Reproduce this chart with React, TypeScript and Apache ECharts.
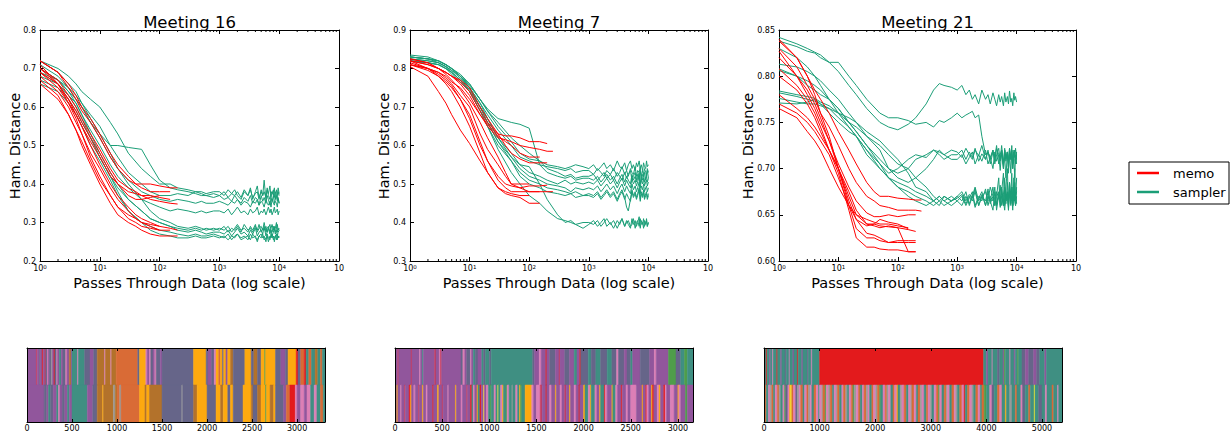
import React, { useEffect, useRef } from "react";
import * as echarts from "echarts";

const GREEN = "#1b9e77";
const RED = "#ff0000";
const FONT = "DejaVu Sans";

const TITLES = ["Meeting 16", "Meeting 7", "Meeting 21"];
const X_NAME = "Passes Through Data (log scale)";
const Y_NAME = "Ham. Distance";
const LEGEND_LABELS = ["memo", "sampler"];

// x grids (passes through data)
const GX = [1, 2, 3, 4, 5, 7, 10, 15, 20, 30, 50, 70, 100, 150, 200, 300, 400, 500, 600, 800,
  1000, 1200, 1400, 1600, 1800, 2000, 2300, 2600, 3000, 3300, 3600, 4000, 4300, 4600, 5000, 5300, 5600, 6000, 6300, 6600, 7000, 7300, 7600, 8000, 8300, 8600, 9000, 9300, 9600, 10000];
const RX = [1, 2, 3, 4, 5, 7, 10, 15, 20, 30, 40, 50, 70, 100, 150, 200, 250];

// ---------- Meeting 16 ----------
const M16_SAMPLER = [
  [0.72,0.70,0.68,0.66,0.64,0.62,0.60,0.56,0.53,0.48,0.44,0.42,0.40,0.40,0.39,0.385,0.38,0.38,0.375,0.38, 0.38,0.37,0.385,0.375,0.37,0.38,0.365,0.385,0.37,0.39,0.36,0.38,0.395,0.365,0.38,0.37,0.41,0.36,0.385,0.375,0.395,0.365,0.38,0.37,0.39,0.36,0.385,0.37,0.39,0.375],
  [0.70,0.67,0.64,0.62,0.60,0.56,0.53,0.50,0.50,0.495,0.49,0.45,0.41,0.39,0.385,0.38,0.375,0.37,0.37,0.365, 0.37,0.36,0.365,0.355,0.37,0.36,0.35,0.365,0.355,0.37,0.35,0.365,0.36,0.345,0.37,0.355,0.365,0.35,0.37,0.36,0.345,0.365,0.355,0.37,0.35,0.36,0.37,0.355,0.365,0.35],
  [0.69,0.67,0.65,0.63,0.61,0.58,0.55,0.50,0.47,0.43,0.40,0.38,0.37,0.37,0.375,0.37,0.38,0.375,0.37,0.375, 0.37,0.38,0.365,0.375,0.385,0.37,0.36,0.38,0.37,0.385,0.365,0.375,0.38,0.36,0.385,0.37,0.38,0.365,0.39,0.37,0.36,0.38,0.375,0.385,0.365,0.38,0.37,0.36,0.38,0.37],
  [0.71,0.68,0.65,0.62,0.60,0.56,0.52,0.47,0.44,0.41,0.38,0.37,0.36,0.355,0.36,0.355,0.35,0.355,0.35,0.35, 0.355,0.35,0.345,0.355,0.35,0.36,0.345,0.355,0.35,0.34,0.355,0.35,0.36,0.345,0.355,0.35,0.34,0.36,0.35,0.345,0.355,0.34,0.36,0.35,0.345,0.355,0.35,0.34,0.36,0.35],
  [0.68,0.66,0.63,0.61,0.58,0.54,0.50,0.45,0.42,0.39,0.36,0.35,0.34,0.33,0.335,0.33,0.325,0.33,0.325,0.33, 0.33,0.325,0.335,0.32,0.33,0.34,0.325,0.33,0.32,0.335,0.325,0.33,0.34,0.32,0.33,0.325,0.335,0.32,0.33,0.34,0.325,0.335,0.32,0.33,0.34,0.325,0.33,0.335,0.32,0.33],
  [0.67,0.65,0.62,0.59,0.56,0.52,0.47,0.42,0.39,0.36,0.33,0.31,0.30,0.29,0.285,0.28,0.285,0.28,0.285,0.28, 0.285,0.28,0.29,0.275,0.285,0.295,0.28,0.285,0.275,0.29,0.28,0.295,0.275,0.285,0.29,0.28,0.30,0.275,0.285,0.29,0.275,0.285,0.295,0.28,0.29,0.275,0.285,0.295,0.28,0.285],
  [0.70,0.67,0.64,0.61,0.58,0.53,0.48,0.43,0.40,0.36,0.33,0.31,0.30,0.29,0.28,0.275,0.28,0.275,0.27,0.275, 0.275,0.27,0.28,0.265,0.275,0.285,0.27,0.275,0.265,0.28,0.27,0.285,0.265,0.275,0.28,0.27,0.29,0.265,0.275,0.285,0.27,0.28,0.265,0.275,0.285,0.27,0.28,0.265,0.275,0.28],
  [0.66,0.64,0.61,0.58,0.55,0.50,0.46,0.41,0.37,0.33,0.30,0.29,0.28,0.275,0.27,0.265,0.27,0.265,0.265,0.27, 0.265,0.26,0.27,0.255,0.265,0.27,0.26,0.265,0.255,0.27,0.26,0.265,0.25,0.265,0.27,0.26,0.265,0.25,0.27,0.26,0.255,0.27,0.26,0.265,0.25,0.265,0.27,0.255,0.265,0.26],
  [0.69,0.66,0.63,0.60,0.57,0.52,0.47,0.42,0.38,0.33,0.30,0.28,0.27,0.265,0.26,0.26,0.265,0.26,0.26,0.265, 0.26,0.265,0.255,0.265,0.26,0.27,0.255,0.26,0.265,0.255,0.27,0.26,0.255,0.265,0.26,0.27,0.255,0.26,0.265,0.25,0.265,0.26,0.27,0.255,0.26,0.265,0.255,0.27,0.26,0.265],
  [0.72,0.69,0.66,0.64,0.61,0.57,0.53,0.48,0.44,0.40,0.36,0.33,0.31,0.30,0.29,0.285,0.29,0.285,0.28,0.285, 0.28,0.29,0.275,0.285,0.28,0.29,0.275,0.295,0.28,0.285,0.275,0.29,0.28,0.295,0.275,0.285,0.28,0.29,0.275,0.285,0.295,0.28,0.275,0.29,0.28,0.285,0.30,0.275,0.285,0.28],
];
const M16_MEMO = [
  [0.72,0.69,0.65,0.62,0.59,0.56,0.52,0.47,0.44,0.41,0.40,0.40,0.40,0.395,0.39,0.39],
  [0.70,0.67,0.63,0.60,0.57,0.53,0.49,0.44,0.41,0.39,0.38,0.37,0.36,0.355,0.35,0.348],
  [0.69,0.65,0.61,0.58,0.55,0.51,0.47,0.42,0.40,0.38,0.375,0.37,0.37,0.365,0.36],
  [0.68,0.64,0.60,0.56,0.53,0.48,0.44,0.39,0.36,0.33,0.31,0.30,0.295,0.29],
  [0.71,0.66,0.61,0.57,0.53,0.47,0.42,0.37,0.34,0.31,0.30,0.29,0.285,0.28,0.28],
  [0.67,0.63,0.58,0.54,0.50,0.45,0.40,0.35,0.32,0.30,0.29,0.28,0.27,0.265,0.265,0.265],
  [0.70,0.66,0.62,0.58,0.55,0.50,0.45,0.40,0.37,0.34,0.32,0.31,0.30,0.29,0.285,0.28],
  [0.66,0.62,0.58,0.54,0.51,0.46,0.41,0.37,0.34,0.32,0.31,0.30,0.29,0.28],
  [0.69,0.66,0.62,0.59,0.56,0.52,0.48,0.43,0.40,0.37,0.36,0.36,0.365,0.37],
  [0.72,0.69,0.66,0.63,0.60,0.57,0.53,0.48,0.45,0.42,0.40,0.39,0.38,0.38,0.38],
];

// ---------- Meeting 7 ----------
const M7_SAMPLER = [
  [0.83,0.825,0.82,0.81,0.80,0.785,0.76,0.72,0.69,0.65,0.61,0.58,0.565,0.56,0.55,0.545,0.54,0.545,0.55,0.545, 0.54,0.55,0.535,0.545,0.555,0.54,0.55,0.535,0.56,0.545,0.54,0.555,0.535,0.55,0.56,0.54,0.55,0.535,0.555,0.545,0.56,0.54,0.55,0.535,0.555,0.545,0.54,0.56,0.545,0.55],
  [0.825,0.82,0.815,0.805,0.795,0.78,0.75,0.71,0.68,0.64,0.60,0.57,0.56,0.55,0.545,0.54,0.535,0.54,0.53,0.535, 0.535,0.525,0.54,0.53,0.52,0.535,0.525,0.54,0.52,0.53,0.545,0.525,0.535,0.52,0.54,0.53,0.525,0.545,0.52,0.535,0.53,0.545,0.52,0.535,0.525,0.54,0.53,0.52,0.54,0.53],
  [0.83,0.825,0.82,0.81,0.80,0.78,0.755,0.72,0.695,0.67,0.66,0.655,0.645,0.55,0.53,0.52,0.515,0.52,0.51,0.515, 0.515,0.51,0.52,0.505,0.515,0.525,0.51,0.52,0.50,0.515,0.525,0.505,0.52,0.51,0.50,0.525,0.51,0.52,0.505,0.515,0.53,0.50,0.52,0.51,0.525,0.505,0.515,0.52,0.505,0.515],
  [0.82,0.815,0.81,0.80,0.79,0.77,0.74,0.70,0.67,0.62,0.58,0.55,0.53,0.52,0.51,0.50,0.51,0.50,0.505,0.50, 0.505,0.50,0.51,0.495,0.505,0.515,0.50,0.51,0.49,0.505,0.515,0.495,0.51,0.50,0.49,0.515,0.50,0.51,0.495,0.505,0.52,0.49,0.51,0.50,0.515,0.495,0.505,0.51,0.495,0.505],
  [0.835,0.83,0.82,0.81,0.80,0.78,0.75,0.71,0.67,0.62,0.57,0.54,0.52,0.51,0.50,0.495,0.49,0.48,0.49,0.485, 0.49,0.485,0.495,0.48,0.49,0.50,0.485,0.495,0.475,0.49,0.50,0.48,0.495,0.485,0.475,0.50,0.485,0.495,0.48,0.49,0.505,0.475,0.495,0.485,0.50,0.48,0.49,0.495,0.48,0.49],
  [0.82,0.815,0.81,0.80,0.79,0.77,0.74,0.69,0.65,0.60,0.56,0.53,0.51,0.50,0.49,0.485,0.48,0.475,0.48,0.47, 0.475,0.47,0.48,0.465,0.475,0.485,0.47,0.48,0.46,0.475,0.485,0.465,0.44,0.43,0.46,0.485,0.47,0.48,0.465,0.475,0.49,0.46,0.48,0.47,0.485,0.465,0.475,0.48,0.465,0.475],
  [0.83,0.825,0.815,0.805,0.795,0.775,0.75,0.70,0.66,0.61,0.56,0.52,0.50,0.49,0.48,0.475,0.47,0.475,0.465,0.47, 0.47,0.465,0.475,0.46,0.47,0.48,0.465,0.475,0.455,0.47,0.48,0.46,0.475,0.465,0.455,0.48,0.465,0.475,0.46,0.47,0.485,0.455,0.475,0.465,0.48,0.46,0.47,0.475,0.46,0.47],
  [0.825,0.82,0.815,0.805,0.79,0.77,0.745,0.70,0.66,0.61,0.57,0.55,0.545,0.50,0.46,0.42,0.40,0.405,0.395,0.40, 0.40,0.395,0.405,0.39,0.40,0.41,0.395,0.405,0.385,0.40,0.41,0.39,0.405,0.395,0.385,0.41,0.395,0.405,0.39,0.40,0.415,0.385,0.405,0.395,0.41,0.39,0.40,0.405,0.39,0.40],
  [0.82,0.815,0.81,0.80,0.785,0.765,0.74,0.69,0.65,0.59,0.53,0.50,0.47,0.45,0.43,0.41,0.405,0.40,0.395,0.385, 0.395,0.405,0.39,0.40,0.41,0.39,0.40,0.385,0.405,0.395,0.41,0.39,0.40,0.405,0.39,0.395,0.41,0.385,0.40,0.405,0.39,0.41,0.395,0.40,0.385,0.405,0.395,0.41,0.39,0.40],
  [0.83,0.825,0.82,0.81,0.80,0.78,0.76,0.72,0.69,0.66,0.62,0.60,0.58,0.56,0.54,0.53,0.52,0.525,0.515,0.52, 0.52,0.525,0.51,0.52,0.53,0.515,0.525,0.51,0.53,0.52,0.51,0.53,0.515,0.525,0.535,0.51,0.52,0.53,0.51,0.525,0.515,0.535,0.51,0.525,0.52,0.53,0.51,0.525,0.535,0.515],
];
const M7_MEMO = [
  [0.825,0.815,0.80,0.79,0.78,0.765,0.74,0.69,0.66,0.63,0.625,0.625,0.62,0.61,0.61,0.605],
  [0.82,0.81,0.80,0.79,0.78,0.76,0.73,0.68,0.65,0.62,0.615,0.61,0.60,0.595,0.59,0.585,0.585],
  [0.81,0.80,0.79,0.78,0.765,0.75,0.72,0.68,0.655,0.625,0.61,0.60,0.58,0.57,0.57],
  [0.82,0.81,0.80,0.79,0.78,0.77,0.75,0.70,0.67,0.63,0.60,0.58,0.565,0.555,0.555,0.555],
  [0.81,0.795,0.78,0.765,0.75,0.72,0.68,0.61,0.56,0.52,0.50,0.495,0.49,0.495,0.495,0.497],
  [0.815,0.80,0.785,0.77,0.755,0.72,0.67,0.60,0.56,0.51,0.49,0.48,0.48,0.48,0.48,0.48,0.48],
  [0.805,0.78,0.74,0.71,0.68,0.64,0.605,0.56,0.53,0.49,0.475,0.47,0.465,0.45,0.45],
  [0.82,0.80,0.78,0.76,0.74,0.70,0.65,0.58,0.53,0.49,0.48,0.475,0.47,0.47],
  [0.825,0.815,0.80,0.785,0.77,0.745,0.71,0.66,0.62,0.57,0.53,0.50,0.49,0.48,0.48],
  [0.81,0.80,0.79,0.775,0.76,0.73,0.70,0.63,0.59,0.55,0.52,0.50,0.50,0.50],
];

// ---------- Meeting 21 ----------
const M21_SAMPLER = [
  [0.842,0.835,0.83,0.826,0.823,0.815,0.805,0.79,0.78,0.765,0.75,0.745,0.742,0.748,0.755,0.77,0.785,0.792,0.79,0.788, 0.785,0.79,0.78,0.785,0.775,0.78,0.77,0.785,0.775,0.78,0.77,0.782,0.775,0.768,0.78,0.772,0.778,0.768,0.782,0.772,0.778,0.77,0.784,0.772,0.776,0.768,0.782,0.774,0.778,0.772],
  [0.838,0.832,0.827,0.825,0.82,0.815,0.815,0.80,0.79,0.775,0.76,0.755,0.755,0.752,0.748,0.75,0.745,0.752,0.75,0.755, 0.76,0.755,0.758,0.76,0.762,0.755,0.758,0.735,0.715,0.718,0.71,0.72,0.705,0.715,0.722,0.708,0.716,0.70,0.72,0.71,0.718,0.705,0.722,0.71,0.715,0.70,0.72,0.712,0.705,0.718],
  [0.83,0.82,0.81,0.80,0.79,0.775,0.765,0.75,0.74,0.725,0.71,0.70,0.695,0.70,0.71,0.715,0.72,0.715,0.71,0.715, 0.715,0.72,0.71,0.718,0.712,0.722,0.708,0.716,0.71,0.72,0.705,0.718,0.712,0.725,0.705,0.715,0.72,0.70,0.722,0.708,0.718,0.695,0.72,0.71,0.725,0.70,0.715,0.72,0.705,0.715],
  [0.813,0.81,0.805,0.80,0.795,0.785,0.775,0.76,0.75,0.735,0.72,0.70,0.69,0.685,0.69,0.70,0.71,0.72,0.715,0.71, 0.71,0.715,0.705,0.712,0.718,0.705,0.715,0.708,0.72,0.705,0.712,0.70,0.718,0.708,0.715,0.698,0.72,0.705,0.712,0.69,0.718,0.70,0.715,0.695,0.72,0.705,0.71,0.69,0.715,0.705],
  [0.808,0.80,0.79,0.785,0.78,0.775,0.765,0.75,0.74,0.725,0.705,0.69,0.68,0.675,0.67,0.665,0.66,0.665,0.67,0.665, 0.67,0.665,0.675,0.66,0.67,0.68,0.665,0.672,0.66,0.675,0.665,0.68,0.66,0.67,0.69,0.658,0.675,0.695,0.66,0.68,0.70,0.655,0.685,0.67,0.695,0.66,0.68,0.70,0.665,0.69],
  [0.806,0.80,0.795,0.79,0.785,0.775,0.76,0.745,0.735,0.72,0.70,0.69,0.685,0.68,0.675,0.67,0.665,0.67,0.665,0.66, 0.665,0.67,0.66,0.668,0.675,0.66,0.67,0.665,0.678,0.66,0.67,0.665,0.68,0.655,0.672,0.665,0.68,0.66,0.69,0.665,0.675,0.655,0.685,0.665,0.68,0.66,0.69,0.67,0.66,0.68],
  [0.784,0.78,0.778,0.776,0.772,0.768,0.76,0.75,0.745,0.735,0.725,0.715,0.705,0.70,0.69,0.68,0.67,0.665,0.66,0.665, 0.67,0.675,0.665,0.672,0.668,0.678,0.66,0.67,0.675,0.665,0.68,0.67,0.66,0.675,0.668,0.682,0.66,0.672,0.678,0.662,0.685,0.668,0.675,0.66,0.68,0.67,0.665,0.685,0.67,0.675],
  [0.776,0.772,0.77,0.77,0.768,0.765,0.76,0.755,0.75,0.74,0.73,0.72,0.71,0.695,0.68,0.675,0.665,0.67,0.665,0.67, 0.665,0.66,0.67,0.662,0.672,0.658,0.668,0.675,0.66,0.67,0.665,0.655,0.675,0.662,0.67,0.66,0.678,0.665,0.655,0.672,0.668,0.66,0.678,0.662,0.67,0.655,0.675,0.665,0.66,0.67],
  [0.771,0.77,0.772,0.775,0.77,0.76,0.75,0.74,0.735,0.72,0.705,0.695,0.70,0.71,0.715,0.712,0.72,0.718,0.715,0.72, 0.718,0.712,0.722,0.715,0.71,0.72,0.714,0.725,0.71,0.718,0.712,0.72,0.708,0.722,0.715,0.71,0.725,0.705,0.72,0.712,0.718,0.708,0.722,0.71,0.72,0.705,0.718,0.712,0.722,0.71],
  [0.782,0.778,0.775,0.773,0.77,0.765,0.755,0.745,0.735,0.715,0.70,0.69,0.68,0.67,0.665,0.66,0.665,0.66,0.67,0.665, 0.668,0.672,0.662,0.67,0.665,0.675,0.66,0.67,0.665,0.678,0.662,0.67,0.668,0.66,0.675,0.665,0.67,0.66,0.68,0.665,0.672,0.658,0.675,0.665,0.67,0.66,0.678,0.665,0.67,0.662],
];
const M21_MEMO = [
  [0.838,0.82,0.80,0.785,0.775,0.76,0.74,0.72,0.705,0.685,0.675,0.67,0.67,0.668,0.667,0.666,0.666],
  [0.83,0.81,0.79,0.775,0.76,0.745,0.725,0.70,0.685,0.67,0.665,0.66,0.658,0.655,0.655,0.655,0.654],
  [0.827,0.80,0.78,0.765,0.75,0.73,0.705,0.68,0.665,0.652,0.648,0.648,0.65,0.648,0.65,0.65],
  [0.808,0.79,0.775,0.76,0.745,0.72,0.70,0.675,0.655,0.64,0.64,0.645,0.642,0.64,0.635],
  [0.82,0.80,0.785,0.77,0.755,0.73,0.70,0.67,0.65,0.64,0.638,0.636,0.638,0.636,0.634,0.632],
  [0.78,0.765,0.755,0.745,0.735,0.72,0.70,0.665,0.645,0.63,0.628,0.625,0.62,0.62,0.62,0.62],
  [0.80,0.785,0.77,0.755,0.74,0.72,0.695,0.655,0.625,0.615,0.615,0.613,0.612,0.612,0.61,0.61],
  [0.77,0.76,0.75,0.74,0.73,0.715,0.69,0.66,0.645,0.638,0.64,0.638,0.637,0.636,0.61,0.61],
  [0.765,0.755,0.74,0.73,0.72,0.70,0.68,0.66,0.65,0.645,0.642,0.64,0.64,0.638,0.636],
  [0.84,0.82,0.80,0.78,0.76,0.735,0.70,0.66,0.635,0.625,0.625,0.622,0.62,0.622,0.622,0.622],
];

// ---------- Segmentation strips: [start, colour index] ----------
const PALETTE = ["#91569c", "#3f8f82", "#d96b36", "#fda90f", "#666589", "#b3722b", "#dc7fb6", "#e31a1c", "#4f9d4a", "#f2e52a", "#9a9a9a", "#c43a5e"];

const M16_TOP = [[0,0],[105,11],[115,0],[140,4],[150,0],[170,7],[180,0],[200,11],[210,4],[225,6],[235,0],[250,4],[270,10],[280,0],[300,7],[310,4],[330,6],[340,0],[360,1],[380,0],[400,4],[430,6],[445,0],[470,5],[490,0],[500,1],[560,6],[570,1],[640,4],[700,0],[740,4],[780,5],[860,6],[870,5],[930,6],[940,5],[990,2],[1230,4],[1250,3],[1320,6],[1335,0],[1360,6],[1375,4],[1400,0],[1420,6],[1435,4],[1480,0],[1500,4],[1850,3],[1990,4],[2010,0],[2050,4],[2080,6],[2100,3],[2130,2],[2150,3],[2170,4],[2185,3],[2210,0],[2230,3],[2260,5],[2290,4],[2420,3],[2490,4],[2520,5],[2560,4],[2600,3],[2640,8],[2650,3],[2760,4],[2820,0],[2870,4],[2900,3],[2990,7],[3010,4],[3040,2],[3080,7],[3100,1],[3130,2],[3160,1],[3200,5],[3230,1],[3260,2],[3280,1]];
const M16_BOTTOM = [[0,0],[190,4],[220,0],[240,1],[260,4],[290,0],[330,1],[350,6],[365,0],[390,4],[420,0],[450,1],[470,0],[500,1],[670,0],[730,4],[780,5],[840,3],[850,5],[960,10],[980,5],[1000,2],[1030,10],[1045,2],[1250,3],[1310,5],[1330,3],[1360,5],[1500,4],[1720,10],[1730,4],[1850,5],[1890,3],[2000,4],[2100,3],[2150,5],[2180,3],[2230,4],[2260,3],[2290,4],[2400,3],[2490,5],[2510,4],[2560,5],[2600,3],[2650,8],[2660,3],[2700,5],[2740,3],[2760,4],[2850,0],[2880,2],[2920,7],[2980,6],[3000,0],[3040,6],[3080,0],[3110,6],[3150,1],[3190,6],[3220,1],[3260,2],[3290,1]];

const M7_TOP = [[0,0],[30,11],[40,0],[170,11],[180,0],[260,6],[270,0],[290,1],[300,0],[420,11],[435,0],[470,6],[480,11],[495,0],[700,4],[720,6],[740,0],[760,4],[800,6],[810,0],[830,1],[850,4],[880,0],[920,1],[940,4],[960,1],[1000,4],[1020,1],[1460,4],[1480,0],[1530,6],[1550,0],[1600,7],[1610,0],[1640,4],[1700,0],[1740,11],[1750,0],[1800,4],[1850,0],[1900,1],[1930,0],[1960,7],[1970,4],[2050,1],[2080,4],[2130,1],[2180,4],[2250,1],[2300,4],[2350,6],[2370,4],[2430,0],[2460,4],[2500,1],[2520,0],[2600,4],[2700,0],[2750,6],[2770,0],[2900,8],[2980,4],[3030,1],[3070,8],[3100,1]];
const M7_BOTTOM = [[0,0],[20,3],[30,0],[60,6],[70,0],[100,11],[110,0],[150,7],[165,3],[175,0],[200,6],[215,0],[250,11],[260,0],[290,3],[300,0],[330,6],[345,0],[400,7],[410,0],[450,3],[465,0],[500,11],[510,0],[560,6],[570,0],[640,3],[650,0],[700,6],[715,0],[760,11],[770,0],[800,7],[815,1],[830,6],[845,0],[870,3],[880,1],[900,7],[915,0],[940,9],[948,0],[970,6],[990,1],[1010,8],[1020,1],[1050,6],[1070,1],[1090,9],[1098,1],[1120,6],[1140,3],[1150,1],[1180,8],[1190,6],[1210,1],[1240,10],[1250,1],[1280,6],[1300,1],[1320,3],[1330,8],[1345,1],[1380,3],[1450,6],[1470,0],[1500,6],[1540,11],[1560,0],[1600,7],[1610,0],[1640,6],[1660,0],[1700,3],[1710,0],[1750,6],[1770,0],[1800,11],[1815,0],[1850,3],[1860,0],[1900,6],[1920,0],[1950,7],[1960,0],[2000,3],[2015,1],[2050,6],[2070,3],[2080,1],[2120,6],[2140,0],[2170,3],[2180,1],[2220,7],[2230,6],[2250,0],[2300,3],[2310,1],[2340,6],[2360,0],[2400,7],[2410,0],[2450,6],[2470,0],[2500,6],[2560,0],[2620,3],[2630,0],[2660,7],[2670,6],[2690,0],[2720,3],[2730,7],[2745,0],[2780,6],[2800,3],[2815,0],[2850,7],[2865,6],[2880,0],[2920,6],[2960,0],[3000,3],[3010,6],[3030,0],[3080,8],[3100,0]];

const M21_TOP = [[0,1],[40,7],[55,1],[100,0],[120,1],[150,6],[165,1],[230,7],[245,1],[300,0],[320,1],[380,4],[400,1],[450,6],[465,1],[520,0],[540,1],[600,7],[615,1],[680,0],[700,1],[780,4],[800,1],[850,6],[865,1],[1000,7],[3950,1],[4000,0],[4030,1],[4100,6],[4115,1],[4200,4],[4240,1],[4300,0],[4320,8],[4340,1],[4420,6],[4435,1],[4500,0],[4520,1],[4560,8],[4580,1],[4640,4],[4700,0],[4760,4],[4850,0],[4900,4],[4960,1],[5050,0],[5080,1]];
const M21_BOTTOM = [[0,2],[40,1],[80,6],[110,10],[140,2],[170,1],[200,6],[240,2],[270,10],[300,1],[340,6],[370,8],[390,4],[430,6],[460,3],[480,9],[500,2],[530,6],[570,4],[600,10],[630,6],[660,2],[700,1],[730,6],[770,2],[800,10],[830,6],[860,1],[900,2],[940,6],[980,1],[1000,6],[1040,10],[1060,2],[1100,8],[1120,6],[1160,10],[1190,2],[1230,1],[1260,6],[1300,10],[1320,2],[1360,1],[1400,6],[1430,2],[1470,10],[1500,1],[1530,6],[1570,2],[1600,8],[1620,10],[1660,6],[1700,2],[1730,1],[1770,6],[1800,2],[1840,10],[1870,6],[1900,1],[1940,2],[1970,6],[2010,10],[2040,2],[2080,8],[2100,1],[2140,6],[2180,2],[2210,10],[2240,6],[2280,1],[2320,2],[2350,6],[2390,3],[2410,1],[2450,10],[2480,6],[2520,2],[2560,1],[2600,6],[2640,10],[2660,2],[2700,6],[2740,1],[2770,2],[2810,10],[2840,6],[2880,1],[2920,2],[2950,6],[2990,10],[3020,1],[3060,6],[3100,2],[3140,8],[3160,6],[3200,1],[3240,2],[3280,10],[3300,6],[3340,1],[3380,2],[3420,6],[3450,10],[3480,1],[3520,2],[3560,6],[3600,7],[3620,1],[3660,2],[3700,6],[3740,10],[3770,1],[3810,2],[3850,6],[3890,1],[3920,2],[3960,8],[4000,1],[4060,6],[4100,4],[4140,1],[4200,2],[4240,6],[4280,1],[4340,3],[4360,1],[4420,10],[4460,1],[4520,2],[4550,1],[4620,6],[4650,4],[4700,1],[4760,2],[4790,1],[4860,9],[4875,1],[4940,4],[5000,1],[5060,6],[5090,1],[5180,2],[5210,1],[5280,6],[5300,1]];

const STRIP_MAX = [3310, 3160, 5360];
const STRIP_TICK = [500, 500, 1000];

const MINOR_MANTISSA = [2, 3, 4, 5, 6, 7, 8, 9];
const DECADES = [1, 10, 100, 1000, 10000];

// ---------- layout ----------
const PANELS = [
  { left: 40, width: 299, yMin: 0.2, yMax: 0.8, yInt: 0.1, dec: 1, yNameX: 15, sampler: M16_SAMPLER, memo: M16_MEMO },
  { left: 410, width: 298, yMin: 0.3, yMax: 0.9, yInt: 0.1, dec: 1, yNameX: 384, sampler: M7_SAMPLER, memo: M7_MEMO },
  { left: 779, width: 297, yMin: 0.6, yMax: 0.85, yInt: 0.05, dec: 2, yNameX: 748, sampler: M21_SAMPLER, memo: M21_MEMO },
];
const STRIPS = [
  { left: 27, width: 298, top: M16_TOP, bottom: M16_BOTTOM },
  { left: 395, width: 298, top: M7_TOP, bottom: M7_BOTTOM },
  { left: 764, width: 298, top: M21_TOP, bottom: M21_BOTTOM },
];
const PLOT_TOP = 30, PLOT_H = 231;
const STRIP_TOP = 348, STRIP_H = 75;

function zip(xs: number[], ys: number[]) {
  const n = Math.min(xs.length, ys.length);
  const out: number[][] = [];
  for (let i = 0; i < n; i++) out.push([xs[i], ys[i]]);
  return out;
}

function segs(row: number[][], rowIdx: number, max: number) {
  return row.map((s, i) => [s[0], i + 1 < row.length ? row[i + 1][0] : max, rowIdx, s[1]]);
}

function buildOption() {
  const grid: any[] = [];
  const xAxis: any[] = [];
  const yAxis: any[] = [];
  const series: any[] = [];
  const graphic: any[] = [];
  const black = { color: "#000", width: 1 };
  const minor: number[] = [];
  DECADES.forEach((d) => MINOR_MANTISSA.forEach((m) => minor.push(m * d)));

  PANELS.forEach((p, i) => {
    grid.push({ left: p.left, top: PLOT_TOP, width: p.width, height: PLOT_H, containLabel: false });
    const logBase = {
      type: "log", logBase: 10, gridIndex: i, min: 1, max: 100000,
      splitLine: { show: false }, axisLine: { show: true, onZero: false, lineStyle: black },
      axisTick: { show: true, inside: true, length: 4, lineStyle: black },
    };
    xAxis.push({
      ...logBase, position: "bottom",
      axisLabel: {
        show: true, margin: 3, color: "#000", fontFamily: FONT,
        formatter: (v: number) => {
          const e = Math.round(Math.log10(v));
          return e >= 5 ? "{b|10}" : "{b|10}{s|" + e + "}";
        },
        rich: {
          b: { fontSize: 8, fontFamily: FONT, color: "#000", lineHeight: 8, padding: [3, 0, 0, 0], verticalAlign: "bottom" },
          s: { fontSize: 5.5, fontFamily: FONT, color: "#000", lineHeight: 6, verticalAlign: "top" },
        },
      },
    });
    xAxis.push({ ...logBase, position: "top", axisLabel: { show: false } });
    const yBase = {
      type: "value", gridIndex: i, min: p.yMin, max: p.yMax, interval: p.yInt,
      splitLine: { show: false }, axisLine: { show: true, onZero: false, lineStyle: black },
      axisTick: { show: true, inside: true, length: 4, lineStyle: black },
    };
    yAxis.push({
      ...yBase, position: "left",
      axisLabel: { show: true, margin: 4, fontSize: 8, color: "#000", fontFamily: FONT, formatter: (v: number) => v.toFixed(p.dec) },
    });
    yAxis.push({ ...yBase, position: "right", axisLabel: { show: false } });

    p.sampler.forEach((ys) => series.push({
      type: "line", name: LEGEND_LABELS[1], xAxisIndex: 2 * i, yAxisIndex: 2 * i, data: zip(GX, ys),
      showSymbol: false, symbol: "none", silent: true, clip: true,
      lineStyle: { color: GREEN, width: 1 }, itemStyle: { color: GREEN },
    }));
    p.memo.forEach((ys) => series.push({
      type: "line", name: LEGEND_LABELS[0], xAxisIndex: 2 * i, yAxisIndex: 2 * i, data: zip(RX, ys),
      showSymbol: false, symbol: "none", silent: true, clip: true,
      lineStyle: { color: RED, width: 1 }, itemStyle: { color: RED },
    }));
    series.push({
      type: "custom", xAxisIndex: 2 * i, yAxisIndex: 2 * i, silent: true, clip: false, z: 5,
      data: minor.map((v) => [v, p.yMin]),
      renderItem: (_params: any, api: any) => {
        const v = api.value(0);
        const b = api.coord([v, p.yMin]);
        const t = api.coord([v, p.yMax]);
        return {
          type: "group", children: [
            { type: "line", shape: { x1: b[0], y1: b[1], x2: b[0], y2: b[1] - 2 }, style: { stroke: "#000", lineWidth: 1 } },
            { type: "line", shape: { x1: t[0], y1: t[1], x2: t[0], y2: t[1] + 2 }, style: { stroke: "#000", lineWidth: 1 } },
          ],
        };
      },
    });

    const cx = p.left + p.width / 2;
    graphic.push({ type: "text", x: cx, y: 22, style: { text: TITLES[i], fontSize: 16.5, fontFamily: FONT, fill: "#000", textAlign: "center", textVerticalAlign: "middle" } });
    graphic.push({ type: "text", x: cx, y: 283, style: { text: X_NAME, fontSize: 14.5, fontFamily: FONT, fill: "#000", textAlign: "center", textVerticalAlign: "middle" } });
    graphic.push({ type: "text", x: p.yNameX, y: 146, rotation: Math.PI / 2, style: { text: Y_NAME, fontSize: 14.5, fontFamily: FONT, fill: "#000", textAlign: "center", textVerticalAlign: "middle" } });
  });

  STRIPS.forEach((s, i) => {
    const g = 3 + i;
    grid.push({ left: s.left, top: STRIP_TOP, width: s.width, height: STRIP_H, containLabel: false });
    const xb = {
      type: "value", gridIndex: g, min: 0, max: STRIP_MAX[i], interval: STRIP_TICK[i], z: 10,
      splitLine: { show: false }, axisLine: { show: true, onZero: false, lineStyle: black },
      axisTick: { show: true, inside: true, length: 3, lineStyle: black },
    };
    xAxis.push({
      ...xb, position: "bottom",
      axisLabel: { show: true, margin: 2, fontSize: 8, color: "#000", fontFamily: FONT, showMaxLabel: false, formatter: (v: number) => String(Math.round(v)) },
    });
    xAxis.push({ ...xb, position: "top", axisLabel: { show: false } });
    const yb = {
      type: "value", gridIndex: g, min: 0, max: 2, z: 10,
      splitLine: { show: false }, axisLine: { show: true, onZero: false, lineStyle: black },
      axisTick: { show: false }, axisLabel: { show: false },
    };
    yAxis.push({ ...yb, position: "left" });
    yAxis.push({ ...yb, position: "right" });
    const data = [...segs(s.top, 1, STRIP_MAX[i]), ...segs(s.bottom, 0, STRIP_MAX[i])];
    series.push({
      type: "custom", xAxisIndex: 6 + 2 * i, yAxisIndex: 6 + 2 * i, silent: true, clip: true,
      data,
      renderItem: (_params: any, api: any) => {
        const a = api.coord([api.value(0), api.value(2) + 1]);
        const b = api.coord([api.value(1), api.value(2)]);
        const col = PALETTE[api.value(3)];
        return {
          type: "rect",
          shape: { x: a[0], y: a[1], width: b[0] - a[0], height: b[1] - a[1] },
          style: { fill: col, stroke: col, lineWidth: 0.5 },
        };
      },
    });
  });

  // legend box
  graphic.push({ type: "rect", shape: { x: 1129, y: 162, width: 100, height: 42 }, style: { fill: "#fff", stroke: "#000", lineWidth: 1 } });
  graphic.push({ type: "line", shape: { x1: 1137, y1: 173, x2: 1159, y2: 173 }, style: { stroke: RED, lineWidth: 2.5 } });
  graphic.push({ type: "line", shape: { x1: 1137, y1: 192, x2: 1159, y2: 192 }, style: { stroke: GREEN, lineWidth: 2.5 } });
  graphic.push({ type: "text", x: 1173, y: 173, style: { text: LEGEND_LABELS[0], fontSize: 13, fontFamily: FONT, fill: "#000", textAlign: "left", textVerticalAlign: "middle" } });
  graphic.push({ type: "text", x: 1173, y: 192, style: { text: LEGEND_LABELS[1], fontSize: 13, fontFamily: FONT, fill: "#000", textAlign: "left", textVerticalAlign: "middle" } });

  return {
    animation: false,
    backgroundColor: "#fff",
    textStyle: { fontFamily: FONT },
    grid, xAxis, yAxis, series, graphic,
  };
}

export default function App() {
  const ref = useRef<HTMLDivElement>(null);
  useEffect(() => {
    if (!ref.current) return;
    const chart = echarts.init(ref.current, null, { renderer: "svg" });
    chart.setOption(buildOption() as any);
    return () => chart.dispose();
  }, []);
  return <div ref={ref} style={{ position: "fixed", left: 0, top: 0, width: 1231, height: 432 }} />;
}
